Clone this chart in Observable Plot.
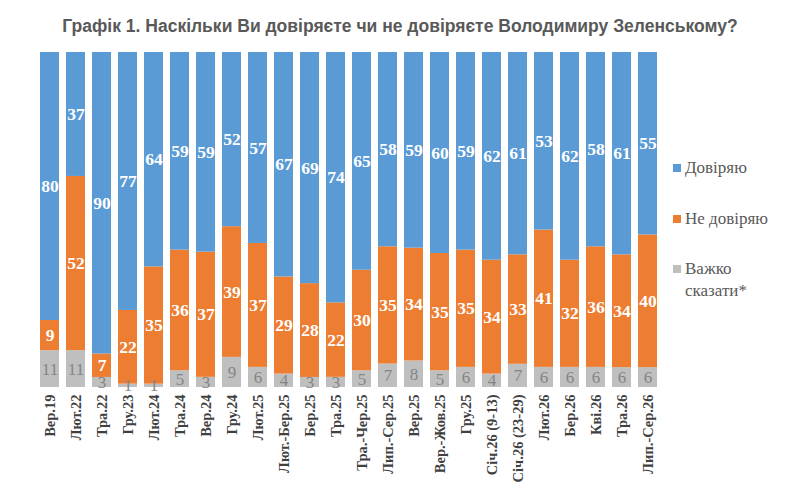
<!DOCTYPE html>
<html><head><meta charset="utf-8">
<script src="https://cdn.jsdelivr.net/npm/d3@7"></script>
<script src="https://cdn.jsdelivr.net/npm/@observablehq/plot@0.6"></script>
<style>
body{margin:0;background:#fff;}
#wrap{position:relative;width:800px;height:495px;overflow:hidden;}
#title{position:absolute;left:0;top:16px;width:800px;text-align:center;font-family:"Liberation Sans",Arial,sans-serif;font-weight:bold;font-size:17.5px;color:#595959;}
.leg{position:absolute;left:673px;font-family:"Liberation Serif","DejaVu Serif",serif;font-size:17px;color:#595959;line-height:22px;}
.sw{display:inline-block;width:8px;height:8px;margin-right:4px;vertical-align:1px;}
</style></head><body>
<div id="wrap">
<div id="title">Графік 1. Наскільки Ви довіряєте чи не довіряєте Володимиру Зеленському?</div>
<div id="chart"></div>
<div class="leg" style="top:157px"><span class="sw" style="background:#5B9BD5"></span>Довіряю</div>
<div class="leg" style="top:208px"><span class="sw" style="background:#ED7D31"></span>Не довіряю</div>
<div class="leg" style="top:258px"><span class="sw" style="background:#BFBFBF"></span>Важко<br><span style="padding-left:12px">сказати*</span></div>
</div>
<script>
const periods = ["Вер.19","Лют.22","Тра.22","Гру.23","Лют.24","Тра.24","Вер.24","Гру.24","Лют.25","Лют.-Бер.25","Бер.25","Тра.25","Тра.-Чер.25","Лип.-Сер.25","Вер.25","Вер.-Жов.25","Гру.25","Січ.26 (9-13)","Січ.26 (23-29)","Лют.26","Бер.26","Кві.26","Тра.26","Лип.-Сер.26"];
const trust    = [80,37,90,77,64,59,59,52,57,67,69,74,65,58,59,60,59,62,61,53,62,58,61,55];
const distrust = [9,52,7,22,35,36,37,39,37,29,28,22,30,35,34,35,35,34,33,41,32,36,34,40];
const hard     = [11,11,3,1,1,5,3,9,6,4,3,3,5,7,8,5,6,4,7,6,6,6,6,6];
const seriesNames = ["Важко сказати*","Не довіряю","Довіряю"];
const seriesColors = ["#BFBFBF","#ED7D31","#5B9BD5"];

const rows = [];
periods.forEach((p,i)=>{
  rows.push({period:p, series:seriesNames[0], value:hard[i]});
  rows.push({period:p, series:seriesNames[1], value:distrust[i]});
  rows.push({period:p, series:seriesNames[2], value:trust[i]});
});

const stackOpts = {x:"period", y:"value", z:"series", offset:"normalize", order:seriesNames};
const serif = "Liberation Serif, DejaVu Serif, serif";

const c = Plot.plot({
  width:800, height:495,
  marginTop:52, marginBottom:108, marginLeft:21, marginRight:124,
  style:{background:"transparent", color:"#404040"},
  x:{domain:periods, padding:0.26, axis:null},
  y:{axis:null, domain:[0,1]},
  color:{domain:seriesNames, range:seriesColors},
  marks:[
    Plot.barY(rows, {...stackOpts, fill:"series"}),
    Plot.text(rows, Plot.stackY({...stackOpts, text:d=>d.series===seriesNames[0]?null:String(d.value),
      fill:"white", fontWeight:"bold", fontSize:17.5, fontFamily:serif})),
    Plot.text(rows, Plot.stackY({...stackOpts, text:d=>d.series===seriesNames[0]?String(d.value):null,
      fill:"#858585", fontSize:17, fontFamily:serif})),
    Plot.axisX({tickSize:0, tickPadding:7, tickRotate:-90, label:null,
      fontSize:14.5, fontWeight:"bold", fontFamily:serif, fill:"#404040"})
  ]
});
document.getElementById("chart").appendChild(c);
</script>
</body></html>
